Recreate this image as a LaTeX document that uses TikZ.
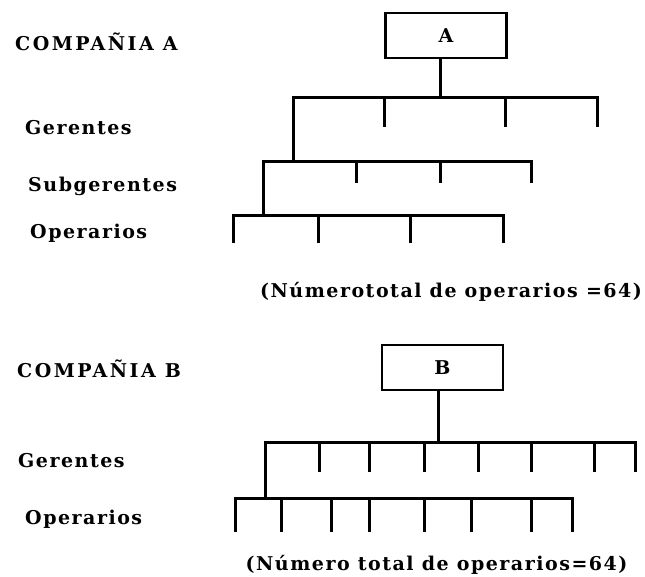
\documentclass[tikz,border=0pt]{standalone}
\usepackage{fontspec}
\setmainfont{DejaVu Serif}
\newfontfamily\lblfont[LetterSpace=8,BoldFont={DejaVu Serif Bold}]{DejaVu Serif}
\newfontfamily\capsfont[LetterSpace=13,BoldFont={DejaVu Serif Bold}]{DejaVu Serif}
\begin{document}
\begin{tikzpicture}[x=1pt,y=-1pt,
  lab/.style={font=\lblfont\bfseries\fontsize{19}{22}\selectfont, anchor=base west, inner sep=0pt},
  caplab/.style={font=\capsfont\bfseries\fontsize{19}{22}\selectfont, anchor=base west, inner sep=0pt},
  note/.style={font=\lblfont\bfseries\fontsize{19}{22}\selectfont, anchor=base, inner sep=0pt},
  orgbox/.style={draw, line width=2.5pt, minimum width=121pt, minimum height=45pt, inner sep=0pt,
    font=\lblfont\bfseries\fontsize{19}{22}\selectfont},
  bar/.style={line width=3pt, line cap=rect}
]
\useasboundingbox[fill=white] (0,0) rectangle (645,577);

% ---------------- Company A ----------------
\node[caplab] (tcA) at (15,51) {COMPAÑIA A};
\node[lab] (tgA) at (25,135) {Gerentes};
\node[lab] (tsA) at (28,192) {Subgerentes};
\node[lab] (toA) at (30,239) {Operarios};
\node[note] (capA) at (451,298) {(Númerototal de operarios =64)};

\node[orgbox] (boxA) at (446,35.5) {A};

\coordinate (gAc) at (440,98);
\coordinate (gAl) at (293,98);
\coordinate (gAr) at (597,98);
\coordinate (sAd) at (293,162);
\coordinate (sAl) at (263,162);
\coordinate (sAr) at (531,162);
\coordinate (oAd) at (263,216);
\coordinate (oAl) at (233,216);
\coordinate (oAr) at (503,216);

\draw[bar] (boxA.south -| gAc) -- (gAc);
\draw[bar] (gAl) -- (gAr);
\draw[bar] (gAl) -- (sAd);
\draw[bar] (sAl) -- (sAr);
\draw[bar] (sAl) -- (oAd);
\draw[bar] (oAl) -- (oAr);

\foreach \x [count=\i] in {384,505,597} {
  \coordinate (gAt\i) at (\x,98);
  \coordinate (gAb\i) at (\x,126);
  \draw[bar] (gAt\i) -- (gAb\i);
}
\foreach \x [count=\i] in {356,440,531} {
  \coordinate (sAt\i) at (\x,162);
  \coordinate (sAb\i) at (\x,182);
  \draw[bar] (sAt\i) -- (sAb\i);
}
\foreach \x [count=\i] in {233,318,410,503} {
  \coordinate (oAt\i) at (\x,216);
  \coordinate (oAb\i) at (\x,242);
  \draw[bar] (oAt\i) -- (oAb\i);
}

% ---------------- Company B ----------------
\node[caplab] (tcB) at (17,377) {COMPAÑIA B};
\node[lab] (tgB) at (18,467) {Gerentes};
\node[lab] (toB) at (25,524) {Operarios};
\node[note] (capB) at (436.5,570) {(Número total de operarios=64)};

\node[orgbox] (boxB) at (442.5,367.5) {B};

\coordinate (gBc) at (438,442);
\coordinate (gBl) at (265,442);
\coordinate (gBr) at (635,442);
\coordinate (oBd) at (265,498);
\coordinate (oBl) at (235,498);
\coordinate (oBr) at (572,498);

\draw[bar] (boxB.south -| gBc) -- (gBc);
\draw[bar] (gBl) -- (gBr);
\draw[bar] (gBl) -- (oBd);
\draw[bar] (oBl) -- (oBr);

\foreach \x [count=\i] in {319,369,424,478,531,594,635} {
  \coordinate (gBt\i) at (\x,442);
  \coordinate (gBb\i) at (\x,470);
  \draw[bar] (gBt\i) -- (gBb\i);
}
\foreach \x [count=\i] in {235,281,331,369,424,471,531,572} {
  \coordinate (oBt\i) at (\x,498);
  \coordinate (oBb\i) at (\x,530);
  \draw[bar] (oBt\i) -- (oBb\i);
}
\end{tikzpicture}
\end{document}
